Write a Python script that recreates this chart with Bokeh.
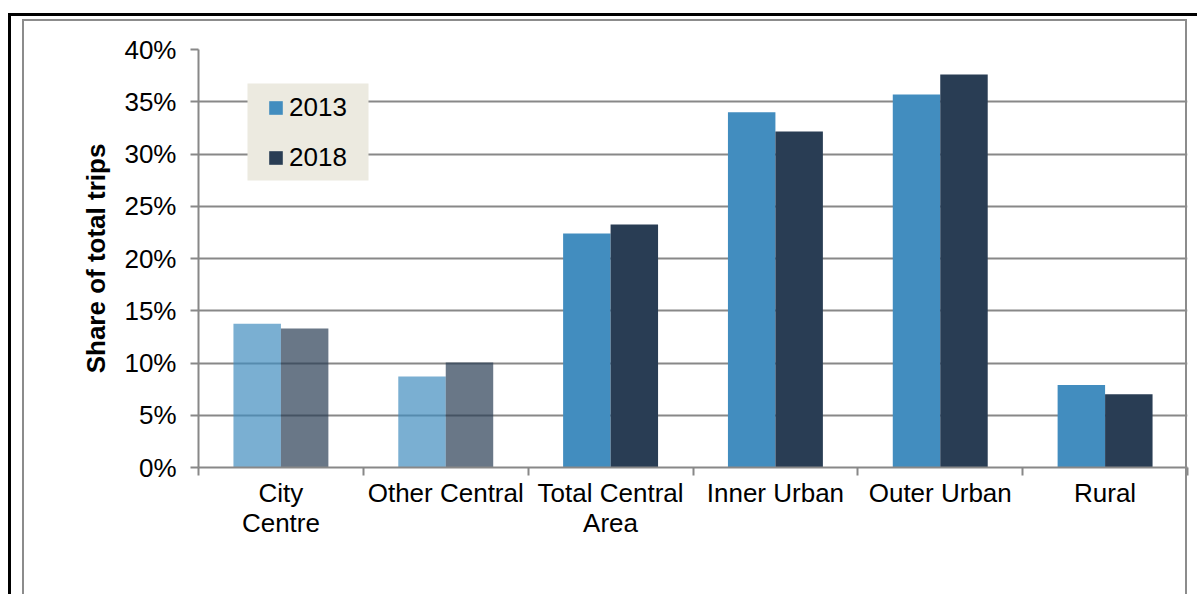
from bokeh.plotting import figure
from bokeh.models import (FixedTicker, PrintfTickFormatter, BoxAnnotation, Legend,
                          LegendItem, ColumnDataSource, Range1d, Div,
                          InlineStyleSheet)
from bokeh.layouts import column
from bokeh.embed import file_html
from bokeh.resources import INLINE
from bokeh.transform import dodge

# ---- data ----
categories = ["City\nCentre", "Other Central", "Total Central\nArea",
              "Inner Urban", "Outer Urban", "Rural"]
share_2013 = [13.75, 8.7, 22.4, 34.0, 35.7, 7.9]
share_2018 = [13.3, 10.05, 23.25, 32.15, 37.6, 7.0]
series = ["2013", "2018"]
y_ticks = [0, 5, 10, 15, 20, 25, 30, 35, 40]

FONT = "Liberation Sans"
GREY = "#888888"
C2013 = "#428DBF"
C2018 = "#293D54"

centers = [i + 0.5 for i in range(len(categories))]
boundaries = list(range(len(categories) + 1))
alphas = [0.7 if i < 2 else 1.0 for i in range(len(categories))]

source = ColumnDataSource(dict(center=centers, s2013=share_2013,
                               s2018=share_2018, alpha=alphas))

black_css = InlineStyleSheet(css="""
:host::before {
  content: ''; position: fixed; left: 7.5px; top: 12.5px; right: -20px; bottom: -20px;
  border-top: 3px solid black; border-left: 3px solid black;
  pointer-events: none; z-index: 10;
}
""")

p = figure(width=1197, height=594, x_range=Range1d(0, len(categories)),
           y_range=Range1d(0, 40), output_backend="svg", toolbar_location=None,
           min_border_left=198, min_border_right=10, min_border_top=49,
           min_border_bottom=127, stylesheets=[black_css])
p.outline_line_color = None
p.background_fill_color = "white"
p.border_fill_color = "white"

bw = 0.288
r1 = p.vbar(x=dodge("center", -bw / 2, range=p.x_range), top="s2013", bottom=0,
            width=bw, fill_color=C2013, fill_alpha="alpha", line_color=None,
            source=source)
r2 = p.vbar(x=dodge("center", bw / 2, range=p.x_range), top="s2018", bottom=0,
            width=bw, fill_color=C2018, fill_alpha="alpha", line_color=None,
            source=source)

# x axis
xa = p.xaxis[0]
xa.ticker = FixedTicker(ticks=centers, minor_ticks=boundaries)
xa.major_label_overrides = {c: lab for c, lab in zip(centers, categories)}
xa.major_tick_out = 0
xa.major_tick_in = 0
xa.minor_tick_out = 8
xa.minor_tick_in = 0
xa.minor_tick_line_color = GREY
xa.minor_tick_line_width = 2
xa.axis_line_color = GREY
xa.axis_line_width = 2
xa.major_label_text_font = FONT
xa.major_label_text_font_size = "26px"
xa.major_label_text_color = "black"
xa.major_label_text_line_height = 1.03
xa.major_label_standoff = 2
p.xgrid.visible = False

# y axis
ya = p.yaxis[0]
ya.ticker = FixedTicker(ticks=y_ticks, minor_ticks=[])
ya.formatter = PrintfTickFormatter(format="%d%%")
ya.major_tick_out = 8
ya.major_tick_in = 0
ya.major_tick_line_color = GREY
ya.major_tick_line_width = 2
ya.axis_line_color = GREY
ya.axis_line_width = 2
ya.major_label_text_font = FONT
ya.major_label_text_font_size = "26px"
ya.major_label_text_color = "black"
ya.major_label_standoff = 14
ya.axis_label = "Share of total trips"
ya.axis_label_text_font = FONT
ya.axis_label_text_font_size = "26px"
ya.axis_label_text_font_style = "bold"
ya.axis_label_text_color = "black"
ya.axis_label_standoff = 10
p.ygrid.ticker = FixedTicker(ticks=y_ticks, minor_ticks=[])
p.ygrid.grid_line_color = GREY
p.ygrid.grid_line_width = 2

# legend
legend_bg = BoxAnnotation(left=49, right=170, top=384, bottom=287,
                          left_units="screen", right_units="screen",
                          top_units="screen", bottom_units="screen",
                          fill_color="#ECEAE0", fill_alpha=1, line_color=None)
p.add_layout(legend_bg)
legend = Legend(items=[LegendItem(label=series[0], renderers=[r1], index=2),
                       LegendItem(label=series[1], renderers=[r2], index=2)],
                location=(69, 294), background_fill_alpha=0,
                border_line_color=None, glyph_width=17, glyph_height=17,
                label_standoff=5, spacing=19, padding=0, margin=0,
                label_text_font=FONT, label_text_font_size="26px",
                label_height=26, label_text_color="black")
p.add_layout(legend)

# grey chart-area frame (fixed overlay)
frame_div = Div(text='<div style="position: fixed; left: 21.5px; top: 18.8px; '
                     'width: 1165px; bottom: -20px; border-top: 2px solid #8C8C8C; '
                     'border-left: 2px solid #8C8C8C; border-right: 2px solid #8C8C8C; '
                     'pointer-events: none; z-index: 9;"></div>',
                width=0, height=0, margin=0)

layout = column(p, frame_div, spacing=0, margin=0)

open("out.html", "w").write(file_html(layout, INLINE))
